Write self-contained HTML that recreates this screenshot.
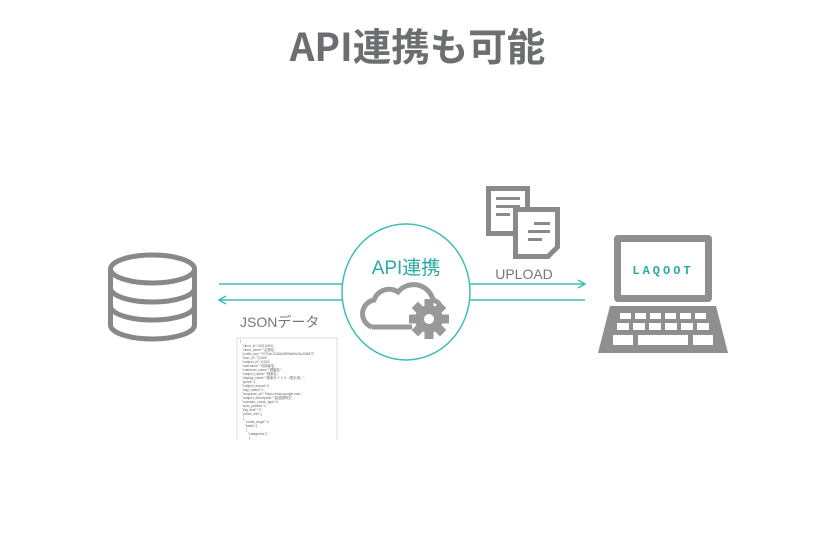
<!DOCTYPE html>
<html><head><meta charset="utf-8"><style>
body{margin:0;background:#fff;width:835px;height:535px;overflow:hidden;position:relative;font-family:"Liberation Sans","Noto Sans CJK JP",sans-serif}
</style></head><body>
<div style="position:absolute;left:0;width:835px;top:19px;text-align:center;font-size:38.5px;font-weight:bold;color:#6d6e71;line-height:52px;font-family:'Noto Sans CJK JP',sans-serif">API連携も可能</div>
<svg width="835" height="535" style="position:absolute;left:0;top:0" font-family="Liberation Sans, Noto Sans CJK JP, sans-serif">
<g fill="none" stroke="#888" stroke-width="5">
<ellipse cx="152.5" cy="269" rx="42" ry="14"/>
<path d="M110.5 269 V325 A42 14 0 0 0 194.5 325 V269"/>
<path d="M110.5 288 A42 14 0 0 0 194.5 288"/>
<path d="M110.5 306 A42 14 0 0 0 194.5 306"/>
</g>
<g stroke="#3dbdb5" stroke-width="1.5" fill="none">
<line x1="219" y1="284" x2="343" y2="284"/>
<line x1="219" y1="300" x2="343" y2="300"/>
<polyline points="226,296 219,300 226,304"/>
<line x1="470" y1="284" x2="585" y2="284"/>
<polyline points="578,280 585,284 578,288"/>
<line x1="470" y1="300" x2="585" y2="300"/>
<ellipse cx="406" cy="292" rx="64" ry="68"/>
</g>
<text x="406" y="274" text-anchor="middle" font-size="19" fill="#2aaaa5">API連携</text>
<path d="M372 327 A14 14 0 0 1 374 300 A16 16 0 0 1 398 292 A20 20 0 0 1 433 300 A12 12 0 0 1 440 305" fill="none" stroke="#999" stroke-width="5"/>
<line x1="372" y1="327" x2="412" y2="327" stroke="#999" stroke-width="5"/>
<g transform="translate(429,319)" fill="#999">
<circle r="14"/>
<rect x="-4.5" y="-20" width="9" height="40"/><rect x="-20" y="-4.5" width="40" height="9"/>
<rect x="-4.5" y="-20" width="9" height="40" transform="rotate(45)"/><rect x="-4.5" y="-20" width="9" height="40" transform="rotate(-45)"/>
<circle r="5" fill="#fff"/>
</g>
<text x="240" y="327" font-size="14" fill="#777">JSONデータ</text>
<path d="M237 440 V338 H337 V440" fill="none" stroke="#ddd" stroke-width="1"/>
<g font-size="3.3" fill="#666">
<text x="240" y="342">{</text><text x="242" y="347">"client_id":100134501,</text><text x="242" y="351">"client_name":"企業名",</text>
<text x="242" y="355">"public_key":"07f7ae1234540809a9bc34c5068?f",</text><text x="242" y="359">"user_id":"12345",</text>
<text x="242" y="363">"subject_id":12324,</text><text x="242" y="367">"username":"利用者名",</text>
<text x="242" y="371">"customer_name":"顧客名",</text><text x="242" y="375">"subject_name":"検索名",</text>
<text x="242" y="379">"display_name":"検索タイトル（表示用）",</text><text x="242" y="383">"genre":1,</text>
<text x="242" y="387">"subject_format":0,</text><text x="242" y="391">"skip_match":1,</text>
<text x="242" y="395">"response_url":"https://www.google.com",</text><text x="242" y="399">"subject_description":"製造説明文",</text>
<text x="242" y="403">"operator_check_type":0,</text><text x="242" y="407">"auto_publish":1,</text>
<text x="242" y="411">"tag_limit":"0",</text><text x="242" y="415">"parse_info":[</text><text x="243" y="419">{</text>
<text x="245" y="423">"rotate_angle":0,</text><text x="245" y="427">"tasks":[</text><text x="246" y="431">{</text>
<text x="248" y="435">"categories":[</text><text x="249" y="439">{</text>
</g>
<g fill="#8a8a8a">
<path d="M486 186 H530 V222 L520 236 H486 Z"/>
<path d="M491 191 H525 V220 L517 231 H491 Z" fill="#fff"/>
<rect x="496" y="197" width="24" height="3"/><rect x="496" y="205" width="24" height="3"/><rect x="496" y="213" width="14" height="3"/>
<path d="M513 207 H560 V248 L549 259 H513 Z"/>
<path d="M518 212 H555 V246 L547 254 H518 Z" fill="#fff"/>
<rect x="534" y="222" width="16" height="3"/><rect x="528" y="230" width="22" height="3"/><rect x="528" y="238" width="14" height="3"/>
</g>
<text x="524" y="279" text-anchor="middle" font-size="14" fill="#777">UPLOAD</text>
<rect x="614" y="235" width="98" height="67" rx="4" fill="#8f8f8f"/>
<rect x="621" y="242" width="84" height="53" fill="#fff"/>
<text x="663" y="274" text-anchor="middle" font-size="12" font-weight="bold" letter-spacing="3" fill="#2aaaa5" font-family="Liberation Mono, monospace">LAQOOT</text>
<path d="M610 306 H716 L728 353 H598 Z" fill="#8f8f8f"/>
<g fill="#fff">
<rect x="620" y="313" width="11" height="6"/><rect x="635" y="313" width="11" height="6"/><rect x="650" y="313" width="11" height="6"/><rect x="665" y="313" width="11" height="6"/><rect x="680" y="313" width="11" height="6"/><rect x="695" y="313" width="11" height="6"/>
<rect x="617" y="323" width="12" height="7"/><rect x="633" y="323" width="12" height="7"/><rect x="649" y="323" width="12" height="7"/><rect x="665" y="323" width="12" height="7"/><rect x="681" y="323" width="12" height="7"/><rect x="697" y="323" width="12" height="7"/>
<rect x="613" y="335" width="20" height="10"/><rect x="638" y="335" width="50" height="10"/><rect x="693" y="335" width="20" height="10"/>
</g>
</svg>
</body></html>
